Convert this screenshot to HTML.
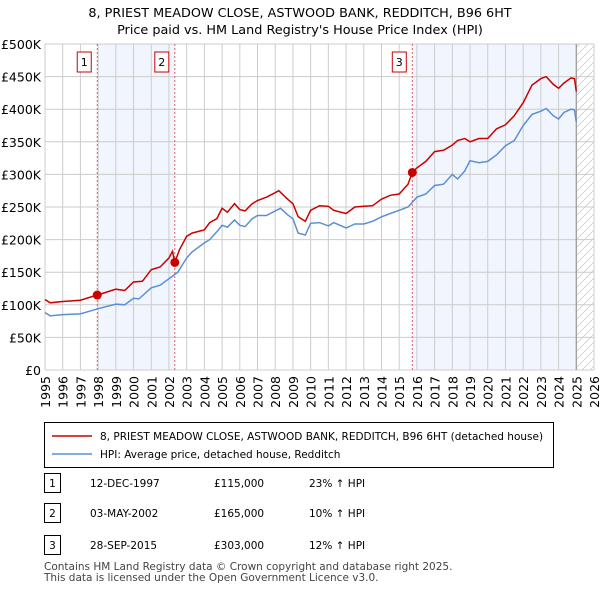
<!DOCTYPE html>
<html><head><meta charset="utf-8"><style>
body{margin:0;background:#fff;font-family:"Liberation Sans","DejaVu Sans",sans-serif;}
svg text{font-family:"DejaVu Sans","Liberation Sans",sans-serif;}
</style></head><body>
<svg id="c" width="600" height="590" xmlns="http://www.w3.org/2000/svg"></svg>
<script>
const yTicks=[0,50000,100000,150000,200000,250000,300000,350000,400000,450000,500000];
const yLabels=["£0","£50K","£100K","£150K","£200K","£250K","£300K","£350K","£400K","£450K","£500K"];
const xYears=[1995,1996,1997,1998,1999,2000,2001,2002,2003,2004,2005,2006,2007,2008,2009,2010,2011,2012,2013,2014,2015,2016,2017,2018,2019,2020,2021,2022,2023,2024,2025,2026];
const hpiT=[1995,1995.3,1996,1997,1998,1999,1999.5,2000,2000.3,2001,2001.5,2002,2002.5,2003,2003.3,2004,2004.3,2004.7,2005,2005.3,2005.7,2006,2006.3,2006.7,2007,2007.5,2008,2008.3,2008.7,2009,2009.3,2009.7,2010,2010.5,2011,2011.3,2012,2012.5,2013,2013.5,2014,2014.5,2015,2015.5,2016,2016.5,2017,2017.5,2018,2018.3,2018.7,2019,2019.5,2020,2020.5,2021,2021.5,2022,2022.5,2023,2023.3,2023.7,2024,2024.3,2024.7,2024.9,2025];
const hpiV=[88000,83000,85000,86000,94000,101000,100000,110000,109000,126000,130000,140000,150000,172000,181000,195000,200000,212000,222000,219000,230000,222000,220000,232000,237000,237000,244000,248000,238000,232000,210000,207000,225000,226000,221000,226000,218000,224000,224000,228000,235000,240000,245000,250000,265000,270000,283000,285000,300000,293000,305000,321000,318000,320000,330000,344000,352000,375000,392000,397000,401000,390000,385000,395000,400000,399000,380000];
const ppT=[1995,1995.3,1996,1997,1997.95,1998.3,1999,1999.5,2000,2000.5,2001,2001.5,2002,2002.2,2002.33,2002.6,2003,2003.3,2004,2004.3,2004.7,2005,2005.3,2005.7,2006,2006.3,2006.7,2007,2007.5,2008,2008.2,2008.7,2009,2009.3,2009.7,2010,2010.5,2011,2011.3,2012,2012.5,2013,2013.5,2014,2014.5,2015,2015.5,2015.74,2016,2016.5,2017,2017.5,2018,2018.3,2018.7,2019,2019.5,2020,2020.5,2021,2021.5,2022,2022.5,2023,2023.3,2023.7,2024,2024.3,2024.7,2024.9,2025];
const ppV=[108000,103000,105000,107000,115000,118000,124000,122000,135000,136000,154000,158000,172000,182000,165000,185000,205000,210000,215000,226000,232000,248000,242000,255000,246000,244000,255000,260000,265000,272000,275000,262000,255000,235000,228000,245000,252000,251000,245000,240000,250000,251000,252000,262000,268000,270000,285000,303000,310000,320000,335000,337000,345000,352000,355000,350000,355000,355000,370000,376000,390000,410000,437000,447000,450000,438000,432000,440000,448000,447000,427000];
const sales=[[1997.95,115000,"1"],[2002.33,165000,"2"],[2015.74,303000,"3"]];
const ns="http://www.w3.org/2000/svg",svg=document.getElementById('c');
const X0=45,X1=594,Y0=370,Y1=44;
const xs=t=>X0+(t-1995)/(2026-1995)*(X1-X0);
const ys=v=>Y0-v/500000*(Y0-Y1);
function mk(tag,a,txt){const e=document.createElementNS(ns,tag);for(const k in a)e.setAttribute(k,a[k]);if(txt!=null)e.textContent=txt;svg.appendChild(e);return e;}
let e;
e=mk('text',{x:300,y:17,'text-anchor':'middle','font-size':12.8,fill:'#000'},"8, PRIEST MEADOW CLOSE, ASTWOOD BANK, REDDITCH, B96 6HT");

e=mk('text',{x:300,y:34,'text-anchor':'middle','font-size':12.8,fill:'#000'},"Price paid vs. HM Land Registry's House Price Index (HPI)");

e=mk('rect',{x:xs(1997.95),y:Y1,width:xs(2002.33)-xs(1997.95),height:Y0-Y1,fill:'#eef3fc',opacity:0.8});

e=mk('rect',{x:xs(2015.74),y:Y1,width:xs(2025.0)-xs(2015.74),height:Y0-Y1,fill:'#eef3fc',opacity:0.8});

const defs=mk('defs',{});
const pat=document.createElementNS(ns,'pattern');pat.setAttribute('id','h');pat.setAttribute('width',8);pat.setAttribute('height',8);pat.setAttribute('patternUnits','userSpaceOnUse');
const pl=document.createElementNS(ns,'path');pl.setAttribute('d','M0,8L8,0');pl.setAttribute('stroke','#ccc');pl.setAttribute('stroke-width',0.8);pat.appendChild(pl);defs.appendChild(pat);
e=mk('rect',{x:xs(2025.0),y:Y1,width:X1-xs(2025.0),height:Y0-Y1,fill:'url(#h)'});

yTicks.forEach((v,i)=>{
 e=mk('line',{x1:X0,x2:X1,y1:ys(v),y2:ys(v),stroke:'#cccccc','stroke-width':1});
 
 e=mk('text',{x:X0-4,y:ys(v)+5,'text-anchor':'end','font-size':12.5,fill:'#000'},yLabels[i]);
 
});
xYears.forEach(y=>{
 e=mk('line',{x1:xs(y),x2:xs(y),y1:Y1,y2:Y0,stroke:'#cccccc','stroke-width':1});
 
 e=mk('text',{x:0,y:0,'text-anchor':'end','font-size':12.5,fill:'#000',transform:`translate(${xs(y)+5},${Y0+6}) rotate(-90)`},String(y));
 
});
e=mk('line',{x1:xs(2025.0),x2:xs(2025.0),y1:Y1,y2:Y0,stroke:'#999','stroke-width':1.2});

sales.forEach(s=>{
 e=mk('line',{x1:xs(s[0]),x2:xs(s[0]),y1:Y1,y2:Y0,stroke:'#e06060','stroke-width':1,'stroke-dasharray':'2,2'});
 
 e=mk('rect',{x:xs(s[0])-20,y:52,width:14,height:20,fill:'#fff',stroke:'#cc0000','stroke-width':1});
 
 e=mk('text',{x:xs(s[0])-13,y:66,'text-anchor':'middle','font-size':11,fill:'#000'},s[2]);
 
});
function path(T,V){return T.map((t,i)=>(i?'L':'M')+xs(t).toFixed(1)+','+ys(V[i]).toFixed(1)).join('');}
e=mk('path',{d:path(hpiT,hpiV),fill:'none',stroke:'#5b8fd4','stroke-width':1.5});

e=mk('path',{d:path(ppT,ppV),fill:'none',stroke:'#cc0000','stroke-width':1.5});

sales.forEach(s=>{
 e=mk('circle',{cx:xs(s[0]),cy:ys(s[1]),r:4.5,fill:'#cc0000'});
 
});
e=mk('rect',{x:44.5,y:422.5,width:509,height:45,fill:'#fff',stroke:'#000','stroke-width':1});

e=mk('line',{x1:52,x2:92,y1:436,y2:436,stroke:'#cc0000','stroke-width':1.5});

e=mk('text',{x:100,y:440,'font-size':10.5,fill:'#000'},"8, PRIEST MEADOW CLOSE, ASTWOOD BANK, REDDITCH, B96 6HT (detached house)");

e=mk('line',{x1:52,x2:92,y1:454,y2:454,stroke:'#5b8fd4','stroke-width':1.5});

e=mk('text',{x:100,y:458,'font-size':10.5,fill:'#000'},"HPI: Average price, detached house, Redditch");

const rows=[["1","12-DEC-1997","£115,000","23% ↑ HPI",483],["2","03-MAY-2002","£165,000","10% ↑ HPI",513],["3","28-SEP-2015","£303,000","12% ↑ HPI",545]];
rows.forEach(r=>{
 e=mk('rect',{x:44.5,y:r[4]-9.5,width:16,height:19,fill:'#fff',stroke:'#000','stroke-width':1});
 
 e=mk('text',{x:52.5,y:r[4]+4,'text-anchor':'middle','font-size':10.5,fill:'#000'},r[0]);
 
 e=mk('text',{x:90,y:r[4]+4,'font-size':10.5,fill:'#000'},r[1]);
 
 e=mk('text',{x:214,y:r[4]+4,'font-size':10.5,fill:'#000'},r[2]);
 
 e=mk('text',{x:309,y:r[4]+4,'font-size':10.5,fill:'#000'},r[3]);
 
});
e=mk('text',{x:44,y:570,'font-size':10.5,fill:'#444'},"Contains HM Land Registry data © Crown copyright and database right 2025.");

e=mk('text',{x:44,y:581,'font-size':10.5,fill:'#444'},"This data is licensed under the Open Government Licence v3.0.");

</script>
</body></html>
